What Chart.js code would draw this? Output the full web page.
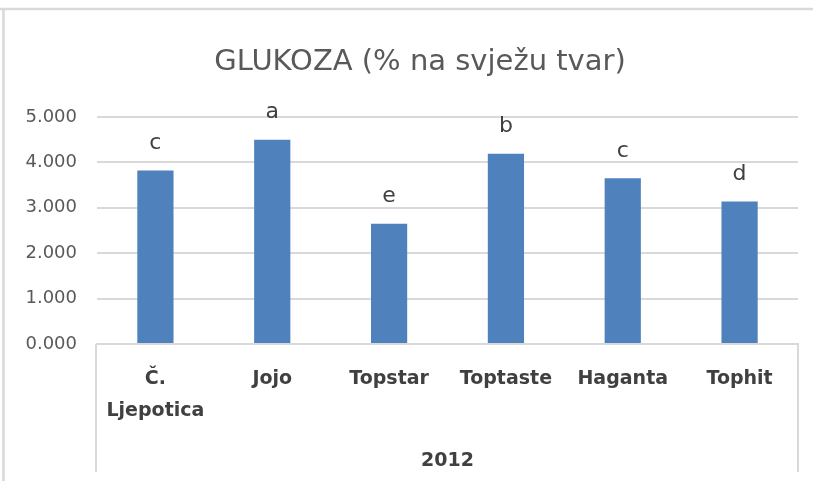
<!DOCTYPE html>
<html>
<head>
<meta charset="utf-8">
<title>Glukoza</title>
<script src="https://cdn.jsdelivr.net/npm/chart.js@4/dist/chart.umd.min.js"></script>
<style>
  body { margin: 0; background: #fff; }
  canvas { display: block; }
</style>
</head>
<body>
<canvas id="graficoGlukoza" width="813" height="481"></canvas>
<script>
var sorte = [["Č.", "Ljepotica"], "Jojo", "Topstar", "Toptaste", "Haganta", "Tophit"];
var glukoza = [3.82, 4.50, 2.65, 4.19, 3.65, 3.14];
var slova = ["c", "a", "e", "b", "c", "d"];
var godina = "2012";
var naslov = "GLUKOZA (% na svježu tvar)";
var yTicks = [0, 1, 2, 3, 4, 5];

var sivaLinija = "#d9d9d9";

// naslov, slova iznad stupaca + okvir grafikona i kategorija
var dodaci = {
  id: "dodaci",
  afterDatasetsDraw: function(chart) {
    var ctx = chart.ctx;
    var meta = chart.getDatasetMeta(0);
    ctx.save();
    ctx.font = "22px 'DejaVu Sans'";
    ctx.fillStyle = "#404040";
    ctx.textAlign = "center";
    ctx.textBaseline = "middle";
    meta.data.forEach(function(bar, i) {
      ctx.fillText(slova[i], bar.x, bar.y - 27);
    });
    ctx.restore();
  },
  afterDraw: function(chart) {
    var ctx = chart.ctx;
    var area = chart.chartArea;
    var x = chart.scales.x;
    ctx.save();
    ctx.font = "29px 'DejaVu Sans'";
    ctx.fillStyle = "#595959";
    ctx.textAlign = "center";
    ctx.textBaseline = "middle";
    ctx.fillText(naslov, 420, 62);

    ctx.strokeStyle = sivaLinija;
    ctx.lineWidth = 2;
    ctx.beginPath();
    ctx.moveTo(area.left - 1, area.bottom);
    ctx.lineTo(area.left - 1, x.bottom - 9);
    ctx.moveTo(area.right, area.bottom);
    ctx.lineTo(area.right, x.bottom - 9);
    ctx.stroke();
    // vanjski okvir
    ctx.lineWidth = 2.5;
    ctx.beginPath();
    ctx.moveTo(0, 9);
    ctx.lineTo(chart.width, 9);
    ctx.moveTo(3.5, 9);
    ctx.lineTo(3.5, chart.height);
    ctx.stroke();
    ctx.restore();
  }
};

var grafico = new Chart(document.getElementById("graficoGlukoza"), {
  type: "bar",
  data: {
    labels: sorte,
    datasets: [{
      label: "Glukoza",
      data: glukoza,
      backgroundColor: "#4f81bd",
      categoryPercentage: 1,
      barPercentage: 0.31
    }]
  },
  options: {
    responsive: false,
    animation: false,
    layout: { padding: { left: 0, right: 15, top: 117, bottom: 0 } },
    plugins: {
      legend: { display: false },
      tooltip: { enabled: false },
      title: { display: false }
    },
    scales: {
      x: {
        grid: { display: false, drawTicks: false },
        border: { display: true, color: sivaLinija, width: 2 },
        ticks: {
          color: "#404040",
          padding: 19,
          maxRotation: 0,
          autoSkip: false,
          font: { family: "'DejaVu Sans'", size: 19, weight: "bold", lineHeight: 1.68 }
        },
        title: {
          display: true,
          text: godina,
          color: "#404040",
          font: { family: "'DejaVu Sans'", size: 19, weight: "bold" },
          padding: { top: 0, bottom: 9 }
        },
        afterFit: function(scale) { scale.height = 137; }
      },
      y: {
        min: 0,
        max: 5,
        afterBuildTicks: function(scale) {
          scale.ticks = yTicks.map(function(v) { return { value: v }; });
        },
        grid: { color: sivaLinija, lineWidth: 2, drawTicks: false },
        border: { display: false },
        ticks: {
          color: "#595959",
          padding: 20,
          font: { family: "'DejaVu Sans'", size: 18 },
          callback: function(v) { return Number(v).toFixed(3); }
        },
        afterFit: function(scale) { scale.width = 97; }
      }
    }
  },
  plugins: [dodaci]
});
</script>
</body>
</html>
